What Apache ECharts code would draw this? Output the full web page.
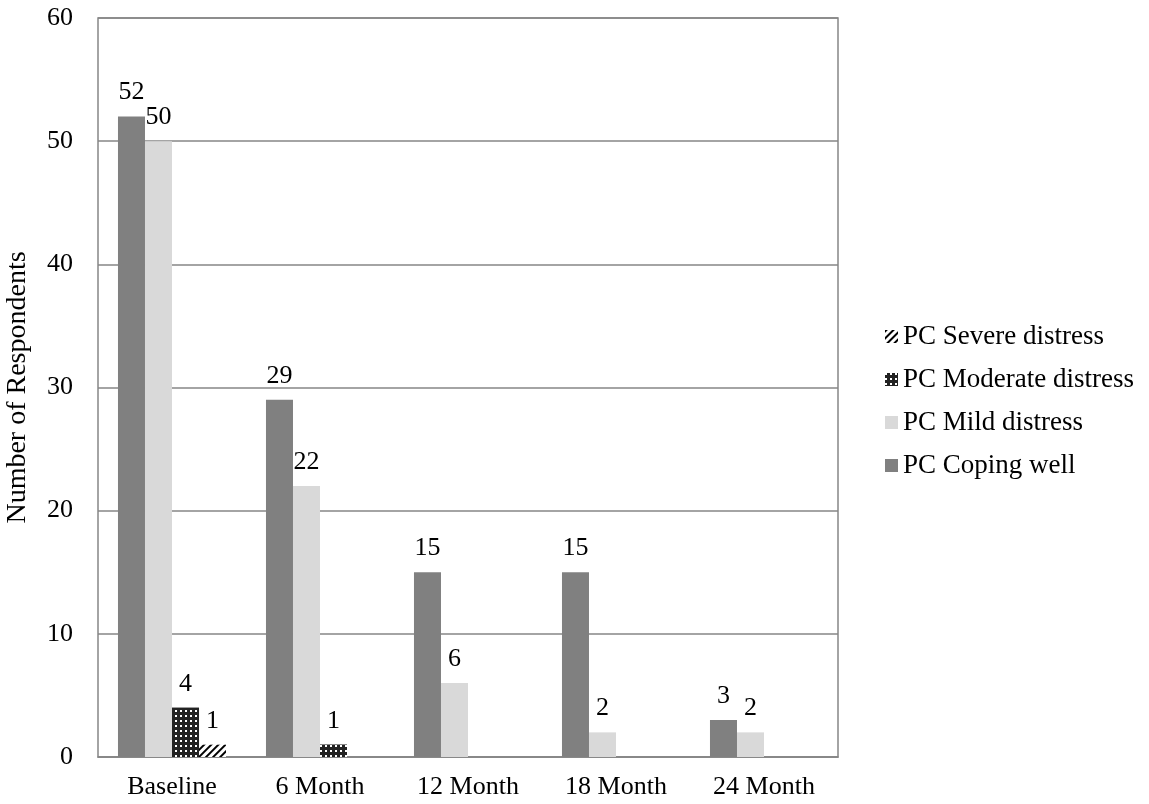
<!DOCTYPE html>
<html><head><meta charset="utf-8">
<script src="https://cdn.jsdelivr.net/npm/echarts@6/dist/echarts.min.js"></script>
<style>html,body{margin:0;padding:0;background:#fff}#c{width:1149px;height:804px}</style>
</head><body><div id="c"></div>
<script>
const categories = ['Baseline', '6 Month', '12 Month', '18 Month', '24 Month'];
const copingWell = [52, 29, 15, 15, 3];
const mildDistress = [50, 22, 6, 2, 2];
const moderateDistress = [4, 1, 0, 0, 0];
const severeDistress = [1, 0, 0, 0, 0];
const yTicks = [0, 10, 20, 30, 40, 50, 60];

const FONT = 'Liberation Serif';
const FS = 26;
const chart = echarts.init(document.getElementById('c'), null, {renderer: 'canvas'});
const lbl = {
  show: true, position: 'top', distance: 11, color: '#000', fontFamily: FONT, fontSize: FS,
  formatter: p => p.value === 0 ? '' : String(p.value)
};
chart.setOption({
  animation: false,
  backgroundColor: '#fff',
  grid: {left: 98, top: 18, width: 740, height: 739, show: true, borderColor: '#868686', borderWidth: 1.5, outerBoundsMode: 'none', containLabel: false},
  legend: {
    orient: 'vertical', left: 880, top: 318, itemGap: 16, itemWidth: 13, itemHeight: 13,
    data: ['PC Severe distress', 'PC Moderate distress', 'PC Mild distress', 'PC Coping well'],
    textStyle: {fontFamily: FONT, fontSize: 27, color: '#000'},
    icon: 'rect'
  },
  xAxis: {
    type: 'category', data: categories,
    axisLine: {lineStyle: {color: '#868686', width: 1.5}},
    axisTick: {show: false},
    axisLabel: {fontFamily: FONT, fontSize: FS, color: '#000', margin: 17}
  },
  yAxis: {
    type: 'value', min: 0, max: 60, interval: 10,
    name: 'Number of Respondents', nameLocation: 'middle', nameGap: 66,
    nameTextStyle: {fontFamily: FONT, fontSize: 28, color: '#000'},
    axisLine: {show: false}, axisTick: {show: false},
    axisLabel: {fontFamily: FONT, fontSize: FS, color: '#000', margin: 25,
      formatter: v => yTicks.includes(v) ? String(v) : ''},
    splitLine: {lineStyle: {color: '#868686', width: 1.5}}
  },
  series: [
    {name: 'PC Coping well', type: 'bar', data: copingWell, barGap: '0%', barCategoryGap: '27%',
     itemStyle: {color: '#808080'}, label: lbl},
    {name: 'PC Mild distress', type: 'bar', data: mildDistress,
     itemStyle: {color: '#d9d9d9'}, label: lbl},
    {name: 'PC Moderate distress', type: 'bar', data: moderateDistress,
     itemStyle: {color: '#222222', decal: {symbol: 'rect', symbolSize: 1, color: '#ffffff', backgroundColor: '#222222', dashArrayX: [[1.5, 2.5]], dashArrayY: [1.5, 2.5], rotation: 0}},
     label: lbl},
    {name: 'PC Severe distress', type: 'bar', data: severeDistress,
     itemStyle: {color: '#ffffff', decal: {symbol: 'rect', symbolSize: 1, color: '#000000', backgroundColor: '#ffffff', dashArrayX: [1, 0], dashArrayY: [1.2, 2.6], rotation: -Math.PI / 4}},
     label: lbl}
  ]
});
</script></body></html>
